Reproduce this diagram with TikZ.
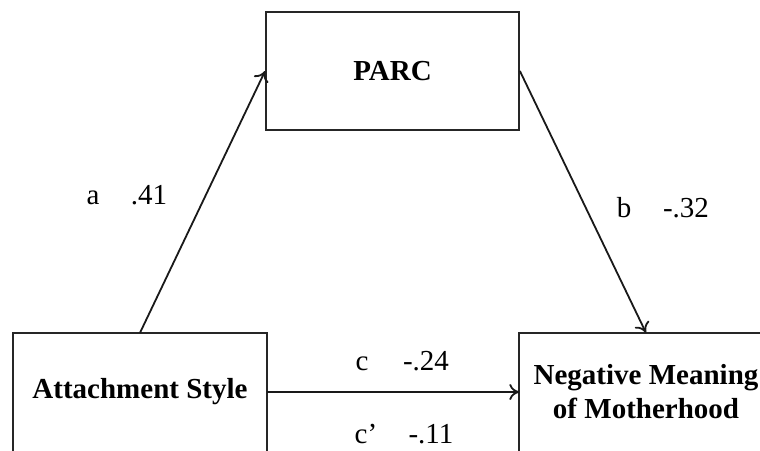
\documentclass[tikz,border=0pt]{standalone}
\usepackage{fontspec}
\setmainfont{Liberation Serif}
\usetikzlibrary{arrows.meta}
\begin{document}
\begin{tikzpicture}[x=1pt,y=-1pt,
  varbox/.style={minimum width=253pt,minimum height=118pt,
    inner sep=0pt,align=center,font=\fontsize{29}{34}\selectfont\bfseries},
  boxline/.style={draw=black!85,line width=1.8pt},
  path/.style={draw=black!90,line width=1.8pt,-{To[length=10pt,width=16pt]}},
  lbl/.style={anchor=base,inner sep=0pt,font=\fontsize{29}{34}\selectfont}]
\useasboundingbox (0,0) rectangle (760,450);
\clip (0,0) rectangle (760,450);
\node[varbox,boxline] (parc) at (392.5,71) {PARC};
\node[varbox] (att) at (140,392) {Attachment Style};
\node[varbox] (neg) at (646,392) {Negative Meaning\\of Motherhood};
\draw[boxline] (att.north west) rectangle ([yshift=-30pt]att.south east);
\draw[boxline] (neg.north west) rectangle ([yshift=-30pt]neg.south east);
\draw[path] (att.north) -- (parc.west);
\draw[path] (parc.east) -- (neg.north);
\draw[path] (att.east) -- (neg.west);
\node[lbl] (la) at (93,204) {a};
\node[lbl] (va) at (149,204) {.41};
\node[lbl] (lb) at (624,217) {b};
\node[lbl] (vb) at (686,217) {-.32};
\node[lbl] (lc) at (362,370) {c};
\node[lbl] (vc) at (426,370) {-.24};
\node[lbl] (lcp) at (366,443) {c’};
\node[lbl] (vcp) at (431,443) {-.11};
\end{tikzpicture}
\end{document}
